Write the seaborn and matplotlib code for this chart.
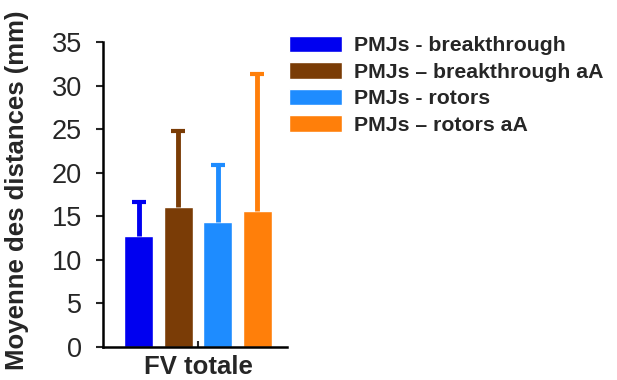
import matplotlib
matplotlib.use('Agg')
import matplotlib.pyplot as plt
import seaborn as sns
import pandas as pd

# données
groupes = ['PMJs - breakthrough', 'PMJs \u2013 breakthrough aA', 'PMJs - rotors', 'PMJs \u2013 rotors aA']
moyennes = [12.7, 16.1, 14.4, 15.6]
ecarts = [4.0, 8.7, 6.5, 15.8]
couleurs = ['#0000f0', '#7a3c06', '#1e8cff', '#ff7f0a']
categorie = 'FV totale'

sns.set_style('white')
plt.rcParams['font.family'] = ['Liberation Sans', 'DejaVu Sans']

df = pd.DataFrame({'cat': [categorie] * 4, 'groupe': groupes, 'moyenne': moyennes})

fig = plt.figure(figsize=(6.17, 3.8), dpi=100)
ax = fig.add_axes([0.167, 0.087, 0.298, 0.802])

sns.barplot(data=df, x='cat', y='moyenne', hue='groupe', palette=couleurs,
            gap=0.27, width=0.8, saturation=1, errorbar=None, ax=ax, legend=True)

# barres d'erreur (au-dessus seulement)
for patch, err, c in zip(ax.patches, ecarts, couleurs):
    xc = patch.get_x() + patch.get_width() / 2
    h = patch.get_height()
    _, caps, _ = ax.errorbar(xc, h, yerr=[[0], [err]], color=c, elinewidth=3.5,
                             capsize=5, capthick=3, zorder=1)
    for cap in caps:
        if cap.get_ydata()[0] <= h:
            cap.set_visible(False)

ax.set_xlim(-0.48, 0.45)
ax.set_ylim(0, 35)
ax.set_yticks(range(0, 36, 5))
ax.tick_params(axis='y', labelsize=19.5, length=5, width=1.5, direction='out', left=True, pad=10)
ax.tick_params(axis='x', labelsize=18.5, length=4, width=1.5, direction='in', bottom=True, pad=6)
for lab in ax.get_xticklabels():
    lab.set_fontweight('bold')
ax.set_xlabel('')
ax.set_ylabel('')
for s in ['top', 'right']:
    ax.spines[s].set_visible(False)
for s in ['left', 'bottom']:
    ax.spines[s].set_linewidth(1.8)
    ax.spines[s].set_color('black')

fig.text(0.028, 0.5, 'Moyenne des distances (mm)', rotation=90, ha='center', va='center',
         fontsize=18.5, fontweight='bold')

handles, labels = ax.get_legend_handles_labels()
ax.legend_.remove()
fig.legend(handles, labels, loc='upper left', bbox_to_anchor=(0.438, 0.956), frameon=False,
           prop={'weight': 'bold', 'size': 15.3}, handlelength=2.5, handleheight=0.8,
           labelspacing=0.33, handletextpad=0.55)

fig.savefig('out.png', dpi=100)
